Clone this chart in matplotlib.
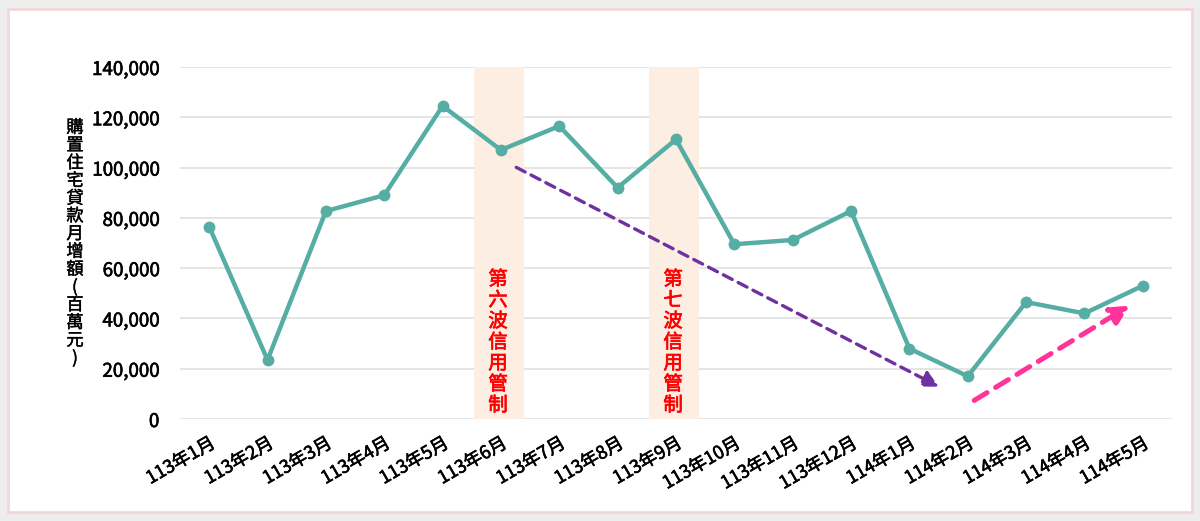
import matplotlib
matplotlib.use("Agg")
import matplotlib.pyplot as plt
import matplotlib.patheffects as pe
from matplotlib.patches import Rectangle, FancyArrowPatch

plt.rcParams['font.family'] = ['Noto Sans CJK TC', 'DejaVu Sans']

months = ["113年1月", "113年2月", "113年3月", "113年4月", "113年5月", "113年6月",
          "113年7月", "113年8月", "113年9月", "113年10月", "113年11月", "113年12月",
          "114年1月", "114年2月", "114年3月", "114年4月", "114年5月"]
values = [76500, 23500, 82700, 89000, 124500, 107000, 116500, 92000, 111200,
          69500, 71200, 82700, 28000, 17000, 46500, 42000, 53000]
yticks = [0, 20000, 40000, 60000, 80000, 100000, 120000, 140000]
band_months = ["113年6月", "113年9月"]
band_labels = ["第六波信用管制", "第七波信用管制"]
ylabel = "購置住宅貸款月增額(百萬元)"

W, H = 1200, 521
fig = plt.figure(figsize=(W / 100, H / 100), dpi=100)
fig.patch.set_facecolor("#EDEDED")
# card frame
fig.patches.append(Rectangle((8 / W, 9 / H), 1184 / W, 503 / H, transform=fig.transFigure,
                             facecolor="white", edgecolor="#F3D6D6", lw=2, zorder=-5))

def thick(color, w=0.45):
    return [pe.withStroke(linewidth=w, foreground=color)]

ax = fig.add_axes([180 / W, (H - 419) / H, (1172 - 180) / W, (419 - 67) / H])
ax.set_facecolor("none")
x = list(range(len(months)))
ax.set_xlim(-0.5, len(months) - 0.5)
ax.set_ylim(0, 140000)

for y in yticks:
    ax.axhline(y, color="#E3E3E3", lw=1.3, zorder=0)

for bm, bl in zip(band_months, band_labels):
    i = months.index(bm)
    ax.axvspan(i - 0.47, i + 0.4, color="#FDEEE4", zorder=0.5, lw=0)
    ax.text(i - 0.05, 1200, "\n".join(bl), color="#FF0000", fontsize=14,
            ha="center", va="bottom", linespacing=1.0, zorder=3,
            path_effects=thick("#FF0000", 0.5))

ax.plot(x, values, color="#55ADA3", lw=3.2, marker="o", ms=7.5, zorder=4)

ax.add_patch(FancyArrowPatch((5.22, 100600), (12.55, 12300), arrowstyle="-|>",
                             mutation_scale=24, color="#7030A0", lw=2.4,
                             linestyle=(0, (3, 2)), zorder=5))
ax.add_patch(FancyArrowPatch((13.07, 6800), (15.82, 45700), arrowstyle="-|>",
                             mutation_scale=28, color="#FF3399", lw=3.6,
                             linestyle=(0, (3, 2)), zorder=5))

ax.set_yticks(yticks)
ax.set_yticklabels([f"{v:,}" for v in yticks], fontsize=13.5)
ax.set_xticks(x)
ax.set_xticklabels(months, fontsize=13, rotation=30, ha="right", rotation_mode="anchor")
for lab in ax.get_yticklabels() + ax.get_xticklabels():
    lab.set_path_effects(thick("black"))
ax.tick_params(length=0)
ax.tick_params(axis="y", pad=15)
ax.tick_params(axis="x", pad=11)
for s in ax.spines.values():
    s.set_visible(False)

fig.text(75 / W, 1 - 243 / H, "\n".join(ylabel), fontsize=12.5, ha="center", va="center",
         linespacing=0.98, path_effects=thick("black", 0.3))

fig.savefig("out.png", dpi=100, facecolor=fig.get_facecolor())
